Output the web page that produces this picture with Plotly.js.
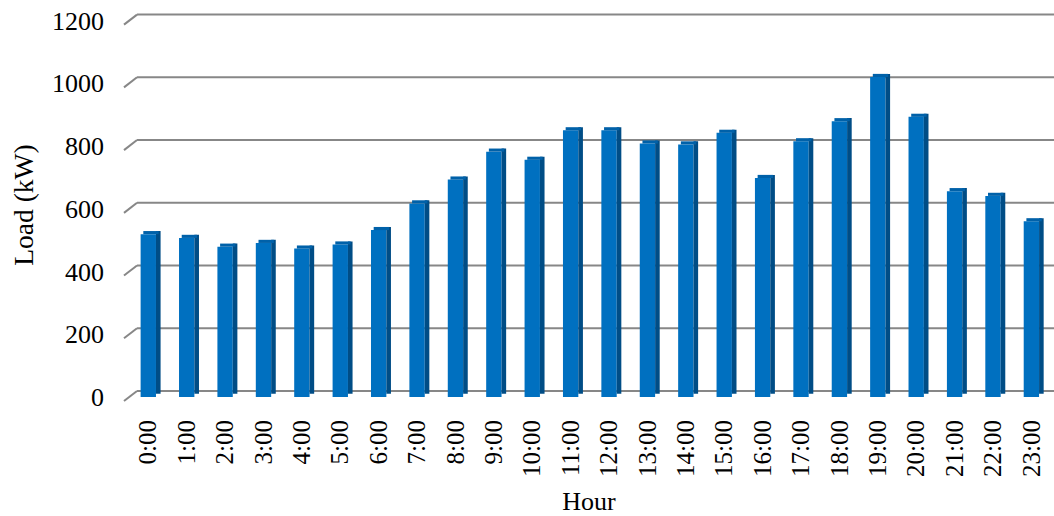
<!DOCTYPE html>
<html>
<head>
<meta charset="utf-8">
<script src="https://cdn.plot.ly/plotly-3.0.1.min.js"></script>
<style>html,body{margin:0;padding:0;background:#fff;}#chart{width:1054px;height:516px;}</style>
</head>
<body>
<div id="chart"></div>
<script>
// Data
const hours = ["0:00","1:00","2:00","3:00","4:00","5:00","6:00","7:00","8:00","9:00","10:00","11:00",
               "12:00","13:00","14:00","15:00","16:00","17:00","18:00","19:00","20:00","21:00","22:00","23:00"];
const loadKW = [519, 507, 479, 491, 473, 486, 532, 617, 693, 782, 756, 850,
                850, 808, 805, 842, 698, 815, 879, 1020, 893, 656, 641, 560];
const yTicks = [0, 200, 400, 600, 800, 1000, 1200];

// 3D look parameters (in axis units)
const depthY = 10;       // vertical rise of bar depth
const wallShift = 19;    // back wall offset for gridlines
const frontShift = 13;   // front edge offset for gridline diagonals

const font = {family: "Liberation Serif, Times New Roman, serif", size: 26, color: "#000"};

const front = {
  type: "bar", x: hours, y: loadKW, width: 0.4, offset: -0.2,
  marker: {color: "#0070c0", line: {width: 0}}, hoverinfo: "x+y", showlegend: false
};
const side = {
  type: "bar", x: hours, y: loadKW, base: loadKW.map(() => depthY), width: 0.12, offset: 0.2,
  marker: {color: "#004d86", line: {width: 0}}, hoverinfo: "skip", showlegend: false
};
const cap = {
  type: "bar", x: hours, y: loadKW.map(() => depthY), base: loadKW, width: 0.4, offset: -0.13,
  marker: {color: "#0061a9", line: {width: 0}}, hoverinfo: "skip", showlegend: false
};

const shapes = [];
yTicks.forEach(v => {
  shapes.push({type: "line", xref: "paper", yref: "y", x0: 0.014, x1: 1, y0: v + wallShift, y1: v + wallShift,
               line: {color: "#878787", width: 2}, layer: "below"});
  shapes.push({type: "line", xref: "paper", yref: "y", x0: 0, x1: 0.014, y0: v - frontShift, y1: v + wallShift,
               line: {color: "#878787", width: 2}, layer: "below"});
});

const layout = {
  width: 1054, height: 516,
  margin: {l: 124, r: 0, t: 8, b: 114},
  paper_bgcolor: "#fff", plot_bgcolor: "#fff",
  barmode: "overlay",
  font: font,
  xaxis: {
    type: "category", range: [-0.633, 23.589], tickangle: -90, showgrid: false, zeroline: false,
    showline: false, ticks: "", ticklabelstandoff: 12, tickfont: {family: font.family, size: 25, color: "#000"},
    title: {text: "Hour", font: font, standoff: 19}, automargin: false
  },
  yaxis: {
    range: [-16, 1240], tickvals: yTicks, ticktext: yTicks.map(String), showgrid: false, zeroline: false,
    showline: false, ticks: "", ticklabelstandoff: 19, tickfont: font,
    title: {text: "Load (kW)", font: {family: font.family, size: 27.5, color: "#000"}, standoff: 10}, automargin: false
  },
  shapes: shapes
};

Plotly.newPlot("chart", [front, side, cap], layout, {displayModeBar: false, staticPlot: true});
</script>
</body>
</html>
